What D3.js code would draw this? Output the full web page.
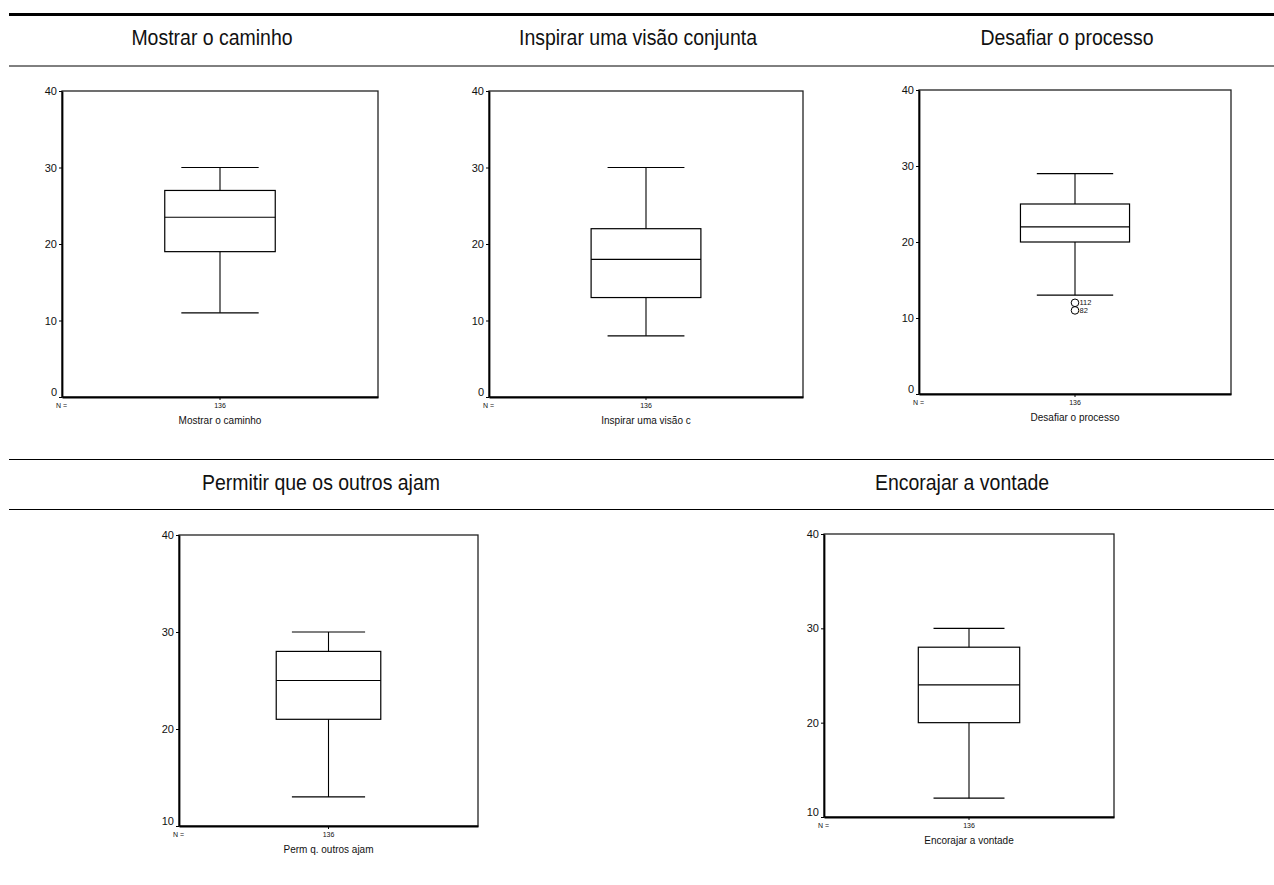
<!DOCTYPE html>
<html>
<head>
<meta charset="utf-8">
<script src="https://cdn.jsdelivr.net/npm/d3@7"></script>
<style>
  body { margin: 0; background: #fff; }
  svg { display: block; font-family: 'Liberation Sans', Arial, Helvetica, sans-serif; }
</style>
</head>
<body>
<div id="grafica"></div>
<script>
titulos     = ['Mostrar o caminho', 'Inspirar uma visão conjunta', 'Desafiar o processo',
               'Permitir que os outros ajam', 'Encorajar a vontade']
rotulosEixo = ['Mostrar o caminho', 'Inspirar uma visão c', 'Desafiar o processo',
               'Perm q. outros ajam', 'Encorajar a vontade']
nCasos      = [136, 136, 136, 136, 136]
bigodeMin   = [11, 8, 13, 13, 12]
quartil1    = [19, 13, 20, 21, 20]
mediana     = [23.5, 18, 22, 25, 24]
quartil3    = [27, 22, 25, 28, 28]
bigodeMax   = [30, 30, 29, 30, 30]
dominiosY   = [[0, 40], [0, 40], [0, 40], [10, 40], [10, 40]]
ticksY      = [[0, 10, 20, 30, 40], [0, 10, 20, 30, 40], [0, 10, 20, 30, 40],
               [10, 20, 30, 40], [10, 20, 30, 40]]
// casos atípicos: painel, valor, número do caso
atipicos = [
  { painel: 2, valor: 12, caso: '112' },
  { painel: 2, valor: 11, caso: '82' }
]

ancho_total = 1274
alto_total  = 885

// posição de cada gráfico na página
quadros = [
  { l: 62,  r: 378,  t: 91,  b: 397, tx: 212, ty: 45 },
  { l: 489, r: 803,  t: 91,  b: 397, tx: 638, ty: 45 },
  { l: 919, r: 1231, t: 90,  b: 394, tx: 1067, ty: 45 },
  { l: 179, r: 478,  t: 535, b: 826, tx: 321, ty: 490 },
  { l: 824, r: 1114, t: 534, b: 817, tx: 962, ty: 490 }
]

svg = d3
        .select('#grafica')
        .append('svg')
        .attr('width', ancho_total)
        .attr('height', alto_total)

// linhas da tabela
linhas = [
  { y: 14.5, w: 3 },
  { y: 66, w: 1 },
  { y: 459.5, w: 1 },
  { y: 509.5, w: 1 }
]
linhas.forEach((d) => {
  svg.append('line')
    .attr('x1', 9).attr('x2', 1274)
    .attr('y1', d.y).attr('y2', d.y)
    .attr('stroke', '#000')
    .attr('stroke-width', d.w)
})

titulos.forEach((t, i) => {
  q = quadros[i]

  // título um pouco condensado, como no original
  svg.append('text')
    .attr('transform', `translate(${q.tx}, ${q.ty}) scale(0.885, 1)`)
    .attr('text-anchor', 'middle')
    .attr('font-size', '22px')
    .attr('fill', '#111')
    .text(t)

  g = svg.append('g')

  x = d3.scaleBand()
        .domain([rotulosEixo[i]])
        .range([q.l, q.r])
        .paddingInner(0)
        .paddingOuter(0.93)

  y = d3.scaleLinear()
        .domain(dominiosY[i])
        .range([q.b, q.t])

  // moldura
  g.append('rect')
    .attr('x', q.l).attr('y', q.t)
    .attr('width', q.r - q.l).attr('height', q.b - q.t)
    .attr('fill', 'none')
    .attr('stroke', '#222')
    .attr('stroke-width', 1.3)

  yAxis = g.append('g')
    .attr('transform', `translate(${q.l}, 0)`)
    .call(d3.axisLeft(y).tickValues(ticksY[i]).tickSize(3).tickPadding(2).tickSizeOuter(0))
  yAxis.select('.domain').attr('stroke-width', 1.8)
  yAxis.selectAll('text')
    .attr('font-size', '11px')
    .attr('font-family', null)
    .attr('fill', '#111')
    .attr('dy', (d) => d == dominiosY[i][0] ? '-0.15em' : '0.32em')

  xAxis = g.append('g')
    .attr('transform', `translate(0, ${q.b})`)
    .call(d3.axisBottom(x).tickSize(3).tickPadding(3).tickSizeOuter(0).tickFormat(() => nCasos[i]))
  xAxis.select('.domain').attr('stroke-width', 1.8)
  xAxis.selectAll('text')
    .attr('font-size', '7px')
    .attr('font-family', null)
    .attr('fill', '#111')
  xAxis.select('.tick').attr('transform', `translate(${x(rotulosEixo[i]) + x.bandwidth() / 2}, 0)`)

  g.append('text')
    .attr('x', q.l - 6)
    .attr('y', q.b + 11)
    .attr('font-size', '7px')
    .attr('fill', '#111')
    .text('N =')

  g.append('text')
    .attr('x', x(rotulosEixo[i]) + x.bandwidth() / 2)
    .attr('y', q.b + 27)
    .attr('text-anchor', 'middle')
    .attr('font-size', '10px')
    .attr('fill', '#111')
    .text(rotulosEixo[i])

  // caixa
  x0 = x(rotulosEixo[i])
  bw = x.bandwidth()
  cx = x0 + bw / 2
  ww = bw * 0.7

  g.append('line')
    .attr('x1', cx).attr('x2', cx)
    .attr('y1', y(bigodeMin[i])).attr('y2', y(bigodeMax[i]))
    .attr('stroke', '#000').attr('stroke-width', 1.1)

  ;[bigodeMin[i], bigodeMax[i]].forEach((v) => {
    g.append('line')
      .attr('x1', cx - ww / 2).attr('x2', cx + ww / 2)
      .attr('y1', y(v)).attr('y2', y(v))
      .attr('stroke', '#000').attr('stroke-width', 1.2)
  })

  g.append('rect')
    .attr('x', x0)
    .attr('y', y(quartil3[i]))
    .attr('width', bw)
    .attr('height', y(quartil1[i]) - y(quartil3[i]))
    .attr('fill', '#fff')
    .attr('stroke', '#000')
    .attr('stroke-width', 1.2)

  g.append('line')
    .attr('x1', x0).attr('x2', x0 + bw)
    .attr('y1', y(mediana[i])).attr('y2', y(mediana[i]))
    .attr('stroke', '#000').attr('stroke-width', 1.2)

  atipicos.filter((d) => d.painel == i).forEach((d) => {
    g.append('circle')
      .attr('cx', cx)
      .attr('cy', y(d.valor))
      .attr('r', 3.8)
      .attr('fill', 'none')
      .attr('stroke', '#000')
      .attr('stroke-width', 1)
    g.append('text')
      .attr('x', cx + 4.5)
      .attr('y', y(d.valor) + 2.5)
      .attr('font-size', '7.5px')
      .attr('fill', '#111')
      .text(d.caso)
  })
})
</script>
</body>
</html>
